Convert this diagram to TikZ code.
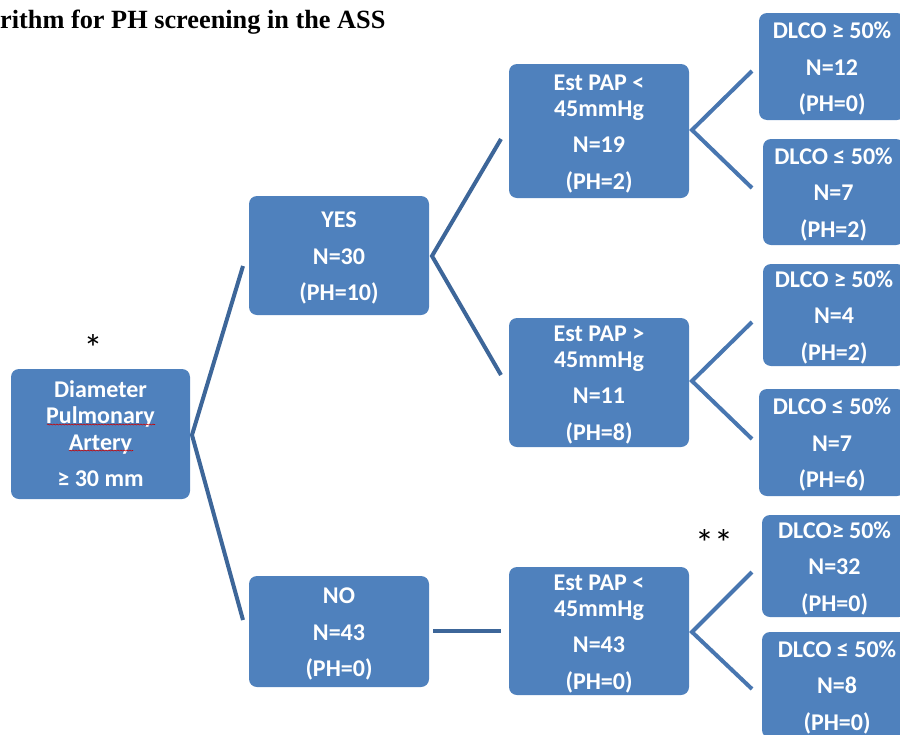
\documentclass[tikz,border=0pt]{standalone}
\usepackage{fontspec}
\setmainfont{Carlito}
\newfontfamily\titlefont{Liberation Serif}
\usetikzlibrary{decorations.pathmorphing}
\definecolor{boxblue}{HTML}{4F81BD}
\definecolor{linedark}{HTML}{3D6699}
\definecolor{linelight}{HTML}{4876B0}
\tikzset{
  box/.style={rectangle, rounded corners=8pt, fill=boxblue, inner sep=0pt},
  btxt/.style={text=white, font=\bfseries\fontsize{24}{25.5}\selectfont,
    align=center, inner sep=0pt},
  conn/.style={line width=4pt, line join=miter, line cap=butt},
  redwave/.style={draw=red!80!black, line width=0.6pt,
    decorate, decoration={snake, amplitude=0.5pt, segment length=3pt}},
  astr/.style={anchor=base, inner sep=0pt, font=\fontsize{38}{40}\selectfont}
}
\begin{document}
\begin{tikzpicture}[x=1pt,y=-1pt]
\useasboundingbox (0,0) rectangle (900,734);
\clip (0,0) rectangle (900,734);
% title
\node[anchor=base west, inner sep=0pt, font=\titlefont\bfseries\fontsize{26.3}{28}\selectfont] (title) at (0,28) {rithm for PH screening in the ASS};
% boxes
\node[box, minimum width=179pt, minimum height=130pt] (root) at (100.5,434) {};
\node[box, minimum width=180pt, minimum height=119pt] (yes) at (339,255.5) {};
\node[box, minimum width=180pt, minimum height=111pt] (no) at (339,631.5) {};
\node[box, minimum width=180pt, minimum height=134pt] (pap1) at (599,131) {};
\node[box, minimum width=180pt, minimum height=129pt] (pap2) at (599,382.5) {};
\node[box, minimum width=180pt, minimum height=128pt] (pap3) at (599,631) {};
\node[box, minimum width=146pt, minimum height=107pt] (d1) at (832,66.5) {};
\node[box, minimum width=141pt, minimum height=106pt] (d2) at (833.5,192) {};
\node[box, minimum width=142pt, minimum height=102pt] (d3) at (834,315) {};
\node[box, minimum width=146pt, minimum height=107pt] (d4) at (832,442.5) {};
\node[box, minimum width=145pt, minimum height=102pt] (d5) at (834.5,566) {};
\node[box, minimum width=150pt, minimum height=106pt] (d6) at (837,685) {};
% box texts
\node[btxt, font=\bfseries\fontsize{24}{26.5}\selectfont] (rootT) at (100.5,433.5) {Diameter\\Pulmonary\\Artery\\[9.5pt]≥ 30 mm};
\node[btxt] (yesT) at (339,258) {YES\\[11pt]N=30\\[11pt](PH=10)};
\node[btxt] (noT) at (339,634) {NO\\[11pt]N=43\\[11pt](PH=0)};
\node[btxt] (pap1T) at (599,134) {Est PAP <\\45mmHg\\[11pt]N=19\\[11pt](PH=2)};
\node[btxt] (pap2T) at (599,385) {Est PAP >\\45mmHg\\[11pt]N=11\\[11pt](PH=8)};
\node[btxt] (pap3T) at (599,634) {Est PAP <\\45mmHg\\[11pt]N=43\\[11pt](PH=0)};
\node[btxt] (d1T) at (832,69) {DLCO ≥ 50\%\\[11pt]N=12\\[11pt](PH=0)};
\node[btxt] (d2T) at (833.5,194.5) {DLCO ≤ 50\%\\[11pt]N=7\\[11pt](PH=2)};
\node[btxt] (d3T) at (834,317.5) {DLCO ≥ 50\%\\[11pt]N=4\\[11pt](PH=2)};
\node[btxt] (d4T) at (832,445) {DLCO ≤ 50\%\\[11pt]N=7\\[11pt](PH=6)};
\node[btxt] (d5T) at (834.5,568.5) {DLCO≥ 50\%\\[11pt]N=32\\[11pt](PH=0)};
\node[btxt] (d6T) at (837,687.5) {DLCO ≤ 50\%\\[11pt]N=8\\[11pt](PH=0)};
% spell-check underlines
\draw[redwave] (47,424.5) -- (155,424.5);
\draw[redwave] (69,450.5) -- (133,450.5);
% asterisks
\node[astr] (ast1) at (93,361) {*};
\node[astr] (ast2) at (714,556) {**};
% connector points
\coordinate (rv) at (192,435);
\coordinate (rya) at (243,266);
\coordinate (rna) at (243,620);
\coordinate (yv) at (432,256);
\coordinate (yp1) at (501,139);
\coordinate (yp2) at (501,375);
\coordinate (ne) at (433,631);
\coordinate (np) at (501,631);
\coordinate (p1v) at (692,130);
\coordinate (p1a) at (752,71);
\coordinate (p1b) at (752,188);
\coordinate (p2v) at (692,381);
\coordinate (p2a) at (752,322);
\coordinate (p2b) at (752,439);
\coordinate (p3v) at (692,632);
\coordinate (p3a) at (752,572);
\coordinate (p3b) at (752,689);
% connectors
\draw[conn, draw=linedark] (rya) -- (rv) -- (rna);
\draw[conn, draw=linedark] (yp1) -- (yv) -- (yp2);
\draw[conn, draw=linedark] (ne) -- (np);
\draw[conn, draw=linelight] (p1a) -- (p1v) -- (p1b);
\draw[conn, draw=linelight] (p2a) -- (p2v) -- (p2b);
\draw[conn, draw=linelight] (p3a) -- (p3v) -- (p3b);
\end{tikzpicture}
\end{document}
